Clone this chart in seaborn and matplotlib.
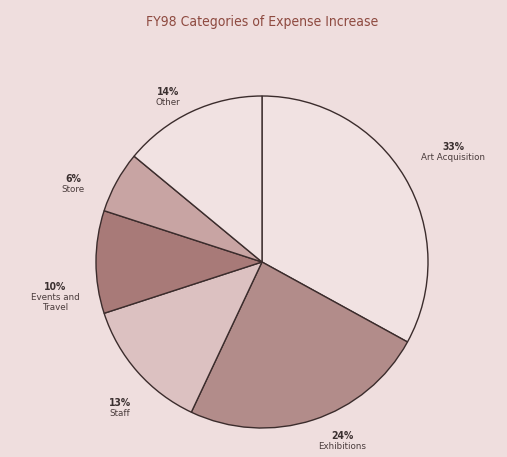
import matplotlib
matplotlib.use('Agg')
import matplotlib.pyplot as plt
import seaborn as sns

# ── Data ──────────────────────────────────────────────────────
categories = ['Art Acquisition', 'Exhibitions', 'Staff', 'Events and\nTravel', 'Store', 'Other']
shares = [33, 24, 13, 10, 6, 14]
slice_colors = ['#f1e2e2', '#b28c8a', '#dcc1c1', '#a87a78', '#c8a4a3', '#f1e2e2']

# label anchor points (pixel coords, y from top)
label_pos = [(453, 152), (342, 441), (120, 408), (55, 292), (73, 184), (168, 97)]

sns.set_theme(style='white')
bg = '#efdede'

fig = plt.figure(figsize=(5.07, 4.57), dpi=100, facecolor=bg)
ax = fig.add_axes([0, 0, 1, 1])
ax.set_facecolor(bg)

W, H = 507, 457
cx, cy, r = 262, 262, 166

ax.pie(shares, colors=slice_colors, startangle=90, counterclock=False,
       center=(cx, H - cy), radius=r, frame=True,
       wedgeprops=dict(edgecolor='#3b2c2c', linewidth=1.0))

for (x, y), name, val in zip(label_pos, categories, shares):
    ax.text(x, H - y, f'{val}%', ha='center', va='bottom',
            fontsize=7.5, fontweight='bold', color='#3a2f2f',
            family='DejaVu Sans', fontstretch='condensed')
    ax.text(x, H - y - 1, name, ha='center', va='top',
            fontsize=6.3, color='#4a3c3c', linespacing=1.1,
            family='DejaVu Sans')

ax.text(262, H - 22, 'FY98 Categories of Expense Increase', ha='center', va='center',
        fontsize=10, color='#8e4a40', family='DejaVu Sans', fontstretch='condensed')

ax.set_xlim(0, W)
ax.set_ylim(0, H)
ax.set_aspect('equal')
ax.axis('off')

plt.savefig('out.png', dpi=100, facecolor=bg)
plt.close()
